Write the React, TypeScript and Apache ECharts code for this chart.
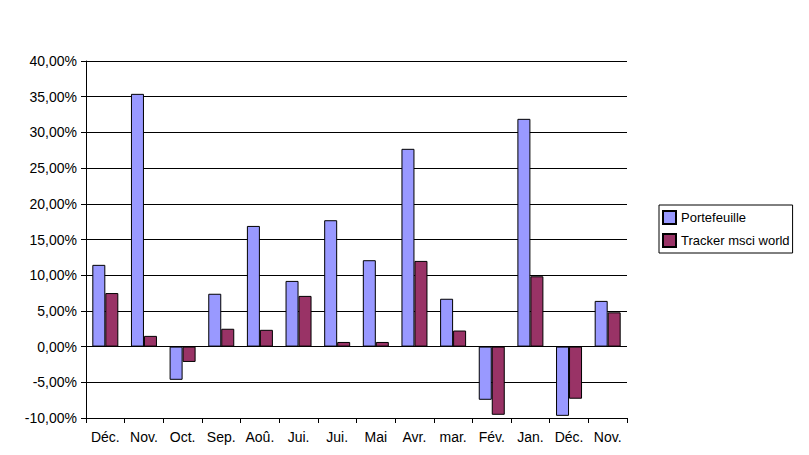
import React, { useEffect, useRef } from "react";
import * as echarts from "echarts";

const categories = ["Déc.", "Nov.", "Oct.", "Sep.", "Aoû.", "Jui.", "Jui.", "Mai", "Avr.", "mar.", "Fév.", "Jan.", "Déc.", "Nov."];
const portefeuille = [11.45, 35.4, -4.65, 7.4, 16.9, 9.2, 17.7, 12.1, 27.7, 6.7, -7.45, 31.9, -9.7, 6.4];
const tracker = [7.5, 1.5, -2.15, 2.5, 2.35, 7.1, 0.65, 0.65, 12.0, 2.25, -9.55, 9.85, -7.3, 4.8];
const seriesNames = ["Portefeuille", "Tracker msci world"];

export default function App() {
  const ref = useRef<HTMLDivElement>(null);
  useEffect(() => {
    const chart = echarts.init(ref.current!, null, { renderer: "svg" });
    const font = "'Liberation Sans', Arial, sans-serif";
    chart.setOption({
      animation: false,
      backgroundColor: "#ffffff",
      grid: { left: 86, right: 182, top: 61, bottom: 37, containLabel: false },
      legend: {
        orient: "vertical",
        left: 659,
        top: 205,
        padding: [5, 3, 5, 3],
        itemGap: 8,
        itemWidth: 13,
        itemHeight: 13,
        borderColor: "#000",
        borderWidth: 1,
        borderRadius: 0,
        icon: "rect",
        textStyle: { fontFamily: font, fontSize: 13, lineHeight: 13, color: "#000" },
        data: seriesNames,
      },
      xAxis: {
        type: "category",
        data: categories,
        position: "bottom",
        axisLine: { onZero: false, lineStyle: { color: "#000", width: 1 } },
        axisTick: { show: true, alignWithLabel: false, length: 5, lineStyle: { color: "#000" } },
        axisLabel: { color: "#000", fontFamily: font, fontSize: 14, margin: 12, interval: 0 },
        splitLine: { show: false },
      },
      yAxis: {
        type: "value",
        min: -10,
        max: 40,
        interval: 5,
        axisLine: { show: true, lineStyle: { color: "#000", width: 1 } },
        axisTick: { show: true, length: 5, lineStyle: { color: "#000" } },
        axisLabel: {
          color: "#000",
          fontFamily: font,
          fontSize: 14,
          margin: 9,
          formatter: (v: number) => v.toFixed(2).replace(".", ",") + "%",
        },
        splitLine: { show: true, lineStyle: { color: "#000", width: 1 } },
      },
      series: [
        {
          name: seriesNames[0],
          type: "bar",
          data: portefeuille,
          barWidth: 13,
          barGap: "0%",
          itemStyle: { color: "#9999FF", borderColor: "#000", borderWidth: 1 },
        },
        {
          name: seriesNames[1],
          type: "bar",
          data: tracker,
          barWidth: 13,
          barGap: "0%",
          itemStyle: { color: "#993366", borderColor: "#000", borderWidth: 1 },
        },
      ],
    });
    return () => chart.dispose();
  }, []);
  return (
    <div
      ref={ref}
      style={{ position: "absolute", left: 0, top: 0, width: 809, height: 455, background: "#fff" }}
    />
  );
}
